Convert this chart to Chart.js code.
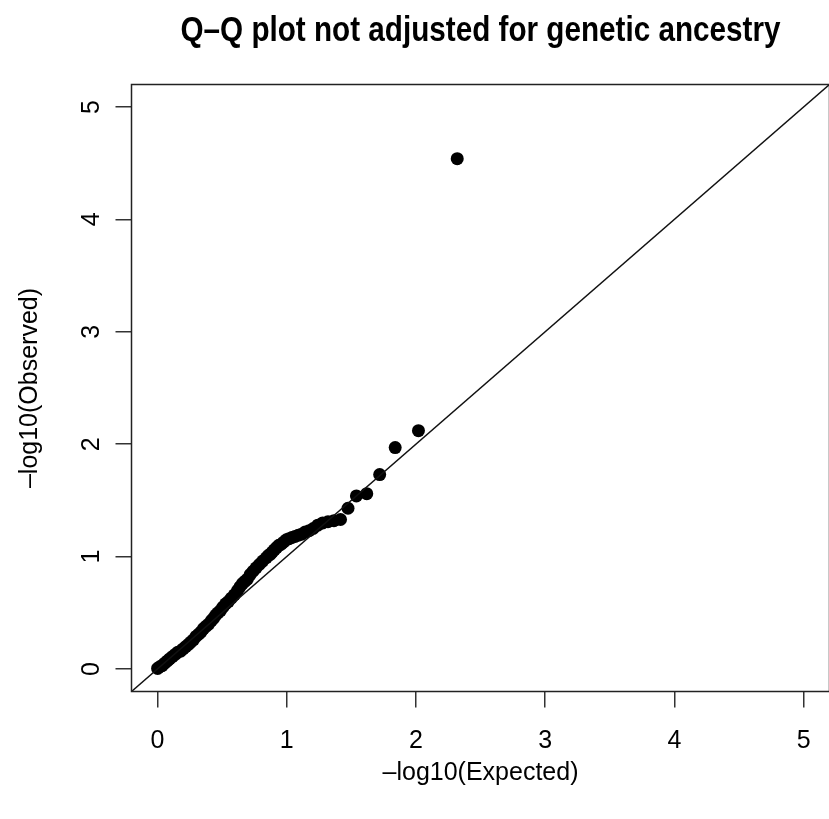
<!DOCTYPE html>
<html>
<head>
<meta charset="utf-8">
<script src="https://cdn.jsdelivr.net/npm/chart.js@4/dist/chart.umd.min.js"></script>
<style>
  html, body { margin: 0; padding: 0; background: #fff; overflow: hidden; }
  #qq { display: block; }
</style>
</head>
<body>
<canvas id="qq" width="836" height="819"></canvas>
<script>
// expected -log10(p), largest first
const expected = [
  2.32, 2.02, 1.84, 1.72, 1.62, 1.54, 1.475, 1.417, 1.366, 1.32,
  1.279, 1.241, 1.206, 1.174, 1.144, 1.116, 1.09, 1.065, 1.041, 1.019,
  0.998, 0.978, 0.958, 0.94, 0.922, 0.905, 0.889, 0.873, 0.858, 0.843,
  0.815, 0.789, 0.764, 0.74, 0.718, 0.697, 0.677, 0.658, 0.639, 0.621,
  0.596, 0.572, 0.549, 0.528, 0.507, 0.488, 0.469, 0.452, 0.434, 0.418,
  0.397, 0.376, 0.357, 0.338, 0.32, 0.299, 0.279, 0.259, 0.241, 0.22,
  0.2, 0.18, 0.159, 0.138, 0.116, 0.095, 0.075, 0.055, 0.037, 0.019, 0.002
];
// observed -log10(p)
const observed = [
  4.54, 2.12, 1.97, 1.73, 1.56, 1.54, 1.43, 1.33, 1.32, 1.31,
  1.30, 1.28, 1.25, 1.23, 1.22, 1.20, 1.19, 1.18, 1.17, 1.16,
  1.15, 1.13, 1.11, 1.10, 1.08, 1.06, 1.04, 1.02, 1.01, 0.99,
  0.96, 0.93, 0.90, 0.87, 0.84, 0.80, 0.78, 0.76, 0.73, 0.70,
  0.66, 0.63, 0.60, 0.58, 0.55, 0.52, 0.50, 0.48, 0.45, 0.43,
  0.40, 0.38, 0.36, 0.33, 0.31, 0.29, 0.26, 0.24, 0.22, 0.20,
  0.18, 0.16, 0.15, 0.13, 0.11, 0.09, 0.07, 0.05, 0.03, 0.02, 0.005
];
const tickValues = [0, 1, 2, 3, 4, 5];
const diagonal = [-0.2, 5.3];

const titleText = "Q\u2013Q plot not adjusted for genetic ancestry";
const xLabel = "\u2013log10(Expected)";
const yLabel = "\u2013log10(Observed)";
const fontFamily = '"Liberation Sans", Arial, Helvetica, sans-serif';

const points = expected.map((x, i) => ({ x: x, y: observed[i] }));
const lineData = diagonal.map((v) => ({ x: v, y: v }));

// R-style box, title and labels
const rDecor = {
  id: "rDecor",
  afterDraw(chart) {
    const ctx = chart.ctx;
    const a = chart.chartArea;
    const xs = chart.scales.x;
    const ys = chart.scales.y;
    ctx.save();
    ctx.strokeStyle = "#222";
    ctx.lineWidth = 1.5;
    ctx.strokeRect(a.left, a.top, a.right - a.left, a.bottom - a.top);

    ctx.fillStyle = "#000";
    ctx.textAlign = "center";
    ctx.textBaseline = "middle";

    // title is drawn condensed, like the narrow Helvetica of the original
    ctx.font = "bold 35px " + fontFamily;
    const tw = ctx.measureText(titleText).width;
    ctx.save();
    ctx.translate(480.5, 31);
    ctx.scale(600 / tw, 1);
    ctx.fillText(titleText, 0, 0);
    ctx.restore();

    ctx.font = "25px " + fontFamily;
    tickValues.forEach((v) => {
      ctx.fillText(String(v), xs.getPixelForValue(v), 741);
    });
    ctx.fillText(xLabel, (a.left + a.right) / 2, 773);

    tickValues.forEach((v) => {
      ctx.save();
      ctx.translate(92, ys.getPixelForValue(v));
      ctx.rotate(-Math.PI / 2);
      ctx.fillText(String(v), 0, 0);
      ctx.restore();
    });
    ctx.save();
    ctx.translate(30, (a.top + a.bottom) / 2);
    ctx.rotate(-Math.PI / 2);
    ctx.fillText(yLabel, 0, 0);
    ctx.restore();
    ctx.restore();
  }
};

const axisCommon = {
  type: "linear",
  min: -0.2,
  max: 5.2,
  afterBuildTicks: (scale) => {
    scale.ticks = tickValues.map((v) => ({ value: v }));
  },
  ticks: { display: false },
  border: { display: false },
  grid: {
    drawOnChartArea: false,
    drawTicks: true,
    tickLength: 16,
    color: "#333",
    lineWidth: 1.5
  }
};

new Chart(document.getElementById("qq"), {
  type: "scatter",
  data: {
    datasets: [
      {
        type: "line",
        data: lineData,
        borderColor: "#111",
        borderWidth: 1.5,
        pointRadius: 0,
        fill: false
      },
      {
        data: points,
        backgroundColor: "#000",
        borderWidth: 0,
        pointRadius: 6.5,
        pointHoverRadius: 6.5
      }
    ]
  },
  options: {
    responsive: false,
    animation: false,
    events: [],
    layout: { padding: { left: 0, top: 84.5, right: 4.5, bottom: 0 } },
    plugins: {
      legend: { display: false },
      tooltip: { enabled: false },
      title: { display: false }
    },
    scales: {
      x: Object.assign({}, axisCommon, {
        position: "bottom",
        afterFit: (scale) => { scale.height = 127.5; }
      }),
      y: Object.assign({}, axisCommon, {
        position: "left",
        afterFit: (scale) => { scale.width = 131.5; }
      })
    }
  },
  plugins: [rDecor]
});
</script>
</body>
</html>
